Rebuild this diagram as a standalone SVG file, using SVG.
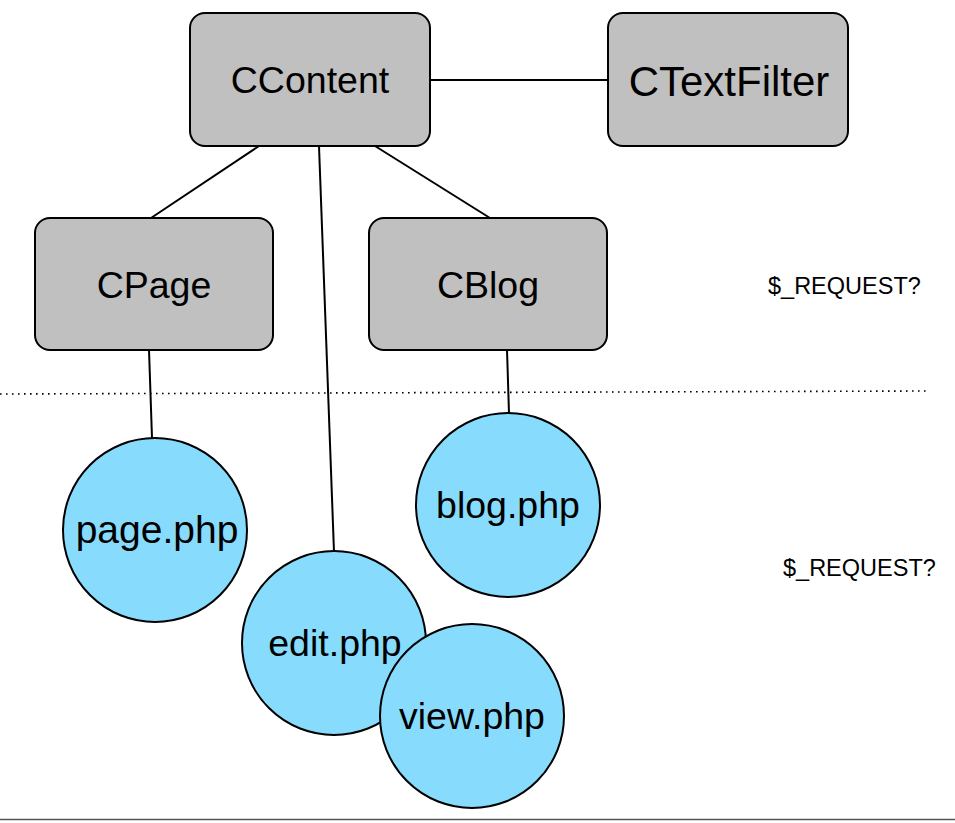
<svg xmlns="http://www.w3.org/2000/svg" width="955" height="823" viewBox="0 0 955 823">
<style>
.box{fill:#c0c0c0;stroke:#000;stroke-width:2}
.circ{fill:#87dcfd;stroke:#000;stroke-width:2}
.lbl{font-family:"Liberation Sans",Arial,sans-serif;font-size:37.5px;fill:#000;text-anchor:middle}
.note{font-family:"Liberation Sans",Arial,sans-serif;font-size:23.5px;fill:#000}
.con{stroke:#000;stroke-width:2;fill:none}
</style>
<rect width="955" height="823" fill="#fff"/>
<g id="connectors">
<line class="con" x1="430" y1="80" x2="608" y2="80"/>
<line class="con" x1="259" y1="146" x2="151" y2="218"/>
<line class="con" x1="375" y1="146" x2="490" y2="218"/>
<line class="con" x1="319" y1="146" x2="334" y2="552"/>
<line class="con" x1="149" y1="350" x2="152" y2="438"/>
<line class="con" x1="507" y1="350" x2="509" y2="413"/>
</g>
<g id="separator">
<line x1="0" y1="394" x2="930" y2="391" stroke="#000" stroke-width="1.6" stroke-dasharray="1.6 4.4"/>
</g>
<g id="bottom-line">
<line x1="0" y1="819.5" x2="955" y2="819.5" stroke="#555" stroke-width="1.5"/>
</g>
<g id="CContent">
<rect class="box" x="190" y="13" width="240" height="133" rx="15"/>
<text class="lbl" x="310" y="93">CContent</text>
</g>
<g id="CTextFilter">
<rect class="box" x="608" y="13" width="240" height="133" rx="15"/>
<text class="lbl" x="729" y="96" style="font-size:42px">CTextFilter</text>
</g>
<g id="CPage">
<rect class="box" x="35" y="218" width="238" height="132" rx="15"/>
<text class="lbl" x="154" y="298">CPage</text>
</g>
<g id="CBlog">
<rect class="box" x="369" y="218" width="238" height="132" rx="15"/>
<text class="lbl" x="488" y="298">CBlog</text>
</g>
<g id="page-php">
<circle class="circ" cx="155" cy="530" r="92"/>
<text class="lbl" x="157" y="543" style="font-size:39px">page.php</text>
</g>
<g id="blog-php">
<circle class="circ" cx="508" cy="505" r="92"/>
<text class="lbl" x="508" y="518">blog.php</text>
</g>
<g id="edit-php">
<circle class="circ" cx="334" cy="643" r="92"/>
<text class="lbl" x="335" y="656">edit.php</text>
</g>
<g id="view-php">
<circle class="circ" cx="472" cy="716" r="92"/>
<text class="lbl" x="472" y="729">view.php</text>
</g>
<g id="notes">
<text class="note" x="768" y="294">$_REQUEST?</text>
<text class="note" x="783" y="576">$_REQUEST?</text>
</g>
</svg>
